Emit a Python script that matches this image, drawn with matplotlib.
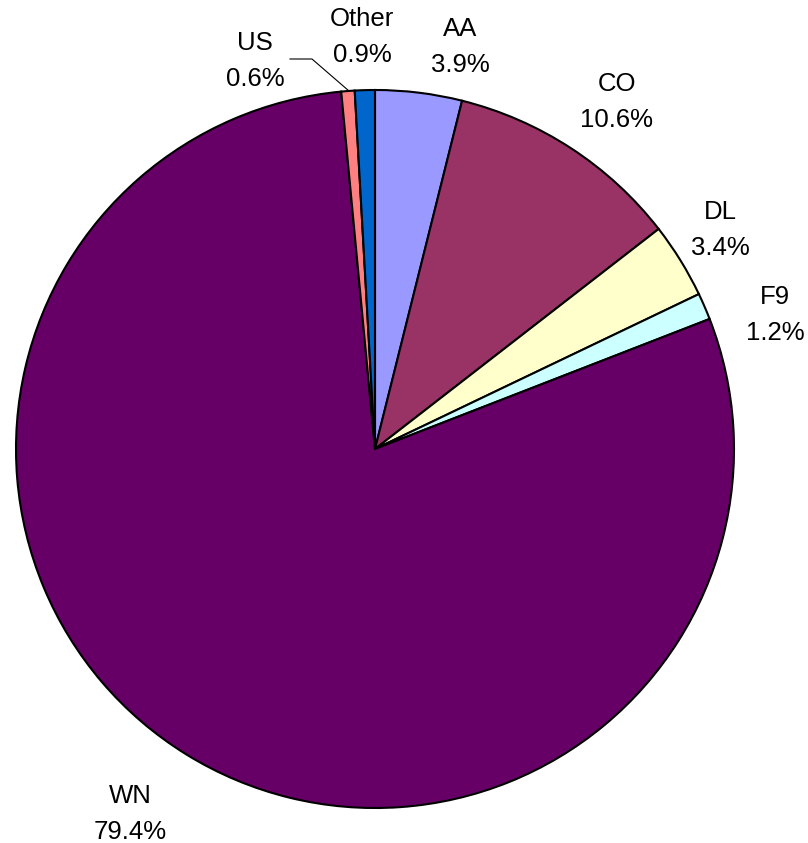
import matplotlib
matplotlib.use("Agg")
import matplotlib.pyplot as plt

carriers = ["AA", "CO", "DL", "F9", "WN", "US", "Other"]
shares = [3.9, 10.6, 3.4, 1.2, 79.4, 0.6, 0.9]
colors = ["#9999FF", "#993366", "#FFFFCC", "#CCFFFF", "#660066", "#FF8080", "#0066CC"]
# label centre positions (pixels from top-left)
label_pos = [(460, 47), (617, 102), (720, 230), (775, 315), (130, 814), (255, 61), (362, 37)]

W, H = 808, 843
fig = plt.figure(figsize=(W / 100, H / 100), dpi=100)
ax = fig.add_axes([0, 0, 1, 1])

cx, cy, r = 375, H - 449, 359
ax.pie(shares, colors=colors, startangle=90, counterclock=False,
       center=(cx, cy), radius=r, frame=True,
       wedgeprops=dict(edgecolor="black", linewidth=1.5))
ax.set_xlim(0, W)
ax.set_ylim(0, H)
ax.set_aspect("equal")
ax.axis("off")

for name, val, (lx, ly) in zip(carriers, shares, label_pos):
    ax.text(lx, H - ly, f"{name}\n{val:.1f}%", ha="center", va="center",
            fontsize=18.5, family="Liberation Sans", linespacing=1.6, color="black")

# leader line for US
ax.plot([290, 312, 349], [H - 59, H - 59, H - 91], color="black", lw=0.8)

fig.savefig("out.png", dpi=100)
